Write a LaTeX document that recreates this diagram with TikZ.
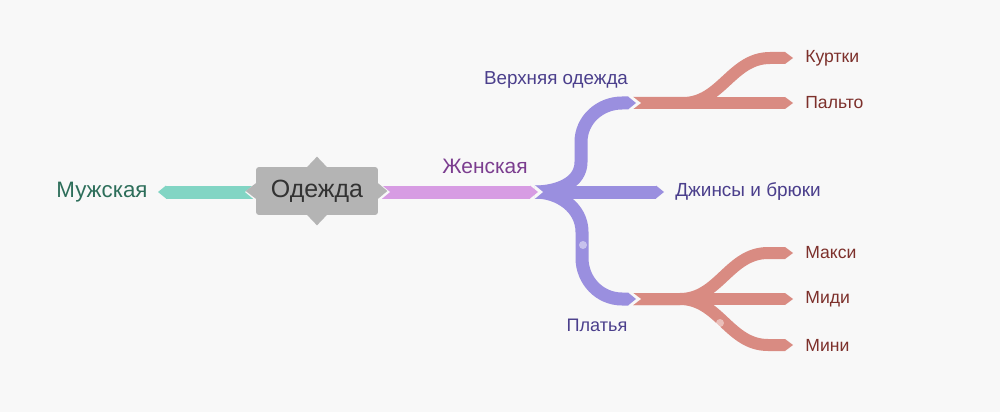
\documentclass[tikz,border=0pt]{standalone}
\usepackage{fontspec}
\setmainfont{Liberation Sans}
\usetikzlibrary{arrows.meta}
\definecolor{bg}{HTML}{F8F8F8}
\definecolor{mint}{HTML}{82D5C4}
\definecolor{minttext}{HTML}{2D6E5A}
\definecolor{rootgray}{HTML}{B4B4B4}
\definecolor{lilac}{HTML}{D79CE3}
\definecolor{lilactext}{HTML}{7B3D8F}
\definecolor{violet}{HTML}{9A8FDF}
\definecolor{violettext}{HTML}{4B3F8C}
\definecolor{salmon}{HTML}{D98B82}
\definecolor{salmontext}{HTML}{7D302B}
\tikzset{
 band/.style={line width=#1*0.02cm, line join=round,
  -{Triangle[length=8*0.02cm, width=0pt 1, line width=0pt]}},
 leaf/.style={anchor=west, inner sep=0pt, font=\fontsize{10}{12}\selectfont, text=salmontext}
}
\begin{document}
\begin{tikzpicture}[x=0.02cm,y=-0.02cm]
\pgfmathsetmacro{\tip}{793};
\fill[bg] (0,0) rectangle (1000,412);
\useasboundingbox (0,0) rectangle (1000,412);
\begin{scope}
\node[inner sep=0pt, font=\fontsize{12.7}{14}\selectfont, text=minttext] (muzh) at (102,192) {Мужская};
\node[inner sep=0pt, font=\fontsize{11.9}{14}\selectfont, text=lilactext] (zhen) at (485,166) {Женская};
\node[inner sep=0pt, font=\fontsize{10.7}{12}\selectfont, text=violettext] (verkh) at (556,80) {Верхняя одежда};
\node[inner sep=0pt, anchor=west, font=\fontsize{10.8}{12}\selectfont, text=violettext] (dzhins) at (675,192) {Джинсы и брюки};
\node[inner sep=0pt, font=\fontsize{10.3}{12}\selectfont, text=violettext] (platya) at (597,325) {Платья};
\node[leaf] (kurtki) at (805,58) {Куртки};
\node[leaf] (palto) at (805,103) {Пальто};
\node[leaf] (maksi) at (805,253) {Макси};
\node[leaf] (midi) at (805,299) {Миди};
\node[leaf] (mini) at (805,345) {Мини};
\coordinate (w) at (535,192);
\coordinate (vo) at (633,103);
\coordinate (pl) at (633,299);
\coordinate (r) at (382,192);
\coordinate (l) at (253,192);
% leaves
\draw[band=12, salmon] (vo) -- (\tip,103);
\draw[band=12, salmon] (vo) -- (683,103) to[out=0,in=180] (770,58) -- (\tip,58);
\draw[band=12, salmon] (pl) -- (\tip,299);
\draw[band=12, salmon] (pl) -- (680,299) to[out=0,in=180] (768,253) -- (\tip,253);
\draw[band=12, salmon] (pl) -- (680,299) to[out=0,in=180] (768,345) -- (\tip,345);
\foreach \c in {vo,pl}
 \fill[bg] (\c) ++(-0.5,-6.5) -- ++(8.5,6.5) -- ++(-8.5,6.5) -- cycle;
% second level
\draw[band=13, violet] (w) -- (664,192);
\draw[band=13, violet] (w) to[out=0,in=-90] (581,162) -- (581,142) to[out=90,in=180] (622,103) -- (636,103);
\draw[band=13, violet] (w) to[out=0,in=90] (582,232) -- (582,258) to[out=-90,in=180] (622,299) -- (636,299);
\fill[bg] (w) ++(-0.5,-7) -- ++(8.5,7) -- ++(-8.5,7) -- cycle;
% first level
\draw[band=13, lilac] (r) -- (538,192);
\fill[bg] (r) ++(-0.5,-7) -- ++(8.5,7) -- ++(-8.5,7) -- cycle;
\draw[band=13, mint] (l) -- (158,192);
\fill[bg] (l) ++(0.5,-7) -- ++(-8.5,7) -- ++(8.5,7) -- cycle;
\fill[white, opacity=.45] (583,245) circle (0.08cm) (720,323) circle (0.08cm);
% root
\node[fill=rootgray, rounded corners=0.06cm, minimum width=2.44cm, minimum height=0.96cm, inner sep=0pt,
 font=\fontsize{14.2}{16}\selectfont, text=black!80] (o) at (317,191) {Одежда};
\fill[rootgray] (o.north) ++(-10,0.5) -- ++(10,-10.5) -- ++(10,10.5)
 (o.south) ++(-10,-0.5) -- ++(10,10.5) -- ++(10,-10.5)
 (o.west) ++(0.5,-8) -- ++(-10.5,8) -- ++(10.5,8)
 (o.east) ++(-0.5,-8) -- ++(9.5,8) -- ++(-9.5,8);
\end{scope}
\end{tikzpicture}
\end{document}
